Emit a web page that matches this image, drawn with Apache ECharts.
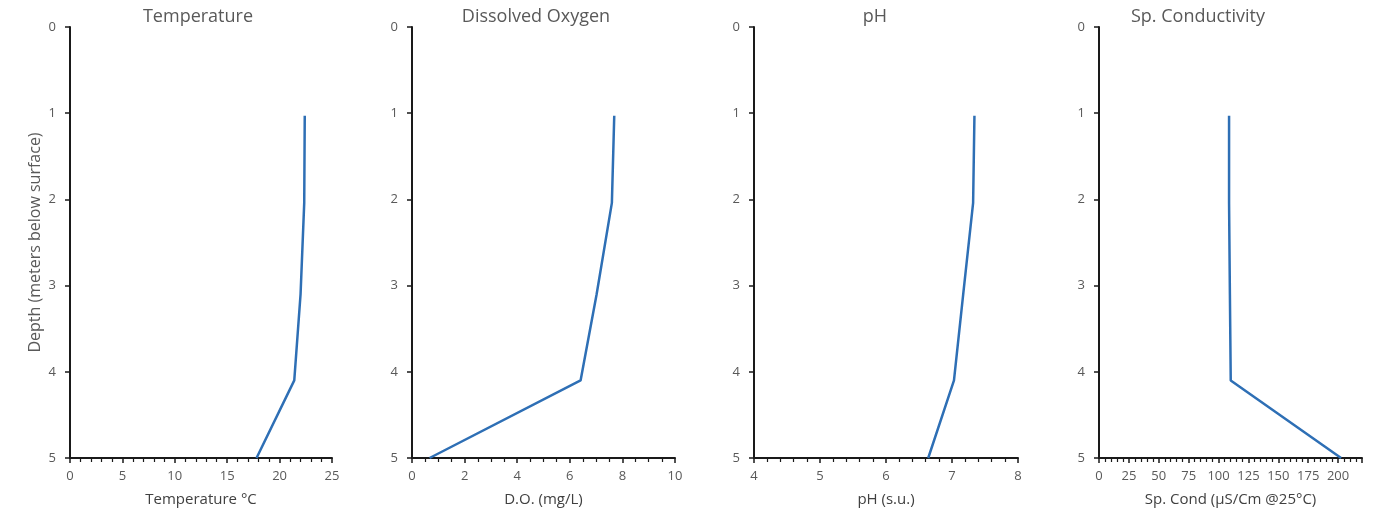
<!DOCTYPE html>
<html>
<head>
<meta charset="utf-8">
<script src="https://cdn.jsdelivr.net/npm/echarts@6/dist/echarts.min.js"></script>
<style>html,body{margin:0;padding:0;background:#fff}#c{width:1382px;height:512px}</style>
</head>
<body>
<div id="c"></div>
<script>
const depth = [1.03, 2.04, 3.1, 4.1, 5.0];
const temperature = [22.4, 22.35, 22.0, 21.4, 17.8];
const dissolvedOxygen = [7.69, 7.6, 7.02, 6.41, 0.67];
const pH = [7.34, 7.32, 7.17, 7.03, 6.64];
const spCond = [108.8, 108.8, 109.5, 110.2, 202.5];
const depthTicks = [0, 1, 2, 3, 4, 5];

const titles = ['Temperature', 'Dissolved Oxygen', 'pH', 'Sp. Conductivity'];
const xNames = ['Temperature °C', 'D.O. (mg/L)', 'pH (s.u.)', 'Sp. Cond (µS/Cm @25°C)'];
const xMin = [0, 0, 4, 0];
const xMax = [25, 10, 8, 220];
const xInterval = [5, 2, 1, 25];
const xMinorSplit = [5, 4, 5, 5];
const seriesValues = [temperature, dissolvedOxygen, pH, spCond];

const gridLeft = [70, 412, 754, 1099];
const gridRight = [332, 675, 1018, 1362];
const titleCenter = [193, 531, 870, 1193];
const FONT = 'Open Sans';

const grids = [], xAxes = [], yAxes = [], series = [], title = [];
for (let i = 0; i < 4; i++) {
  grids.push({left: gridLeft[i], width: gridRight[i] - gridLeft[i], top: 27, height: 434, containLabel: false});
  title.push({text: titles[i], left: titleCenter[i], top: 3, textAlign: 'center',
    textStyle: {fontFamily: FONT, fontSize: 18, fontWeight: 'normal', color: '#595959'}});
  xAxes.push({
    type: 'value', gridIndex: i, position: 'bottom', min: xMin[i], max: xMax[i], interval: xInterval[i],
    name: xNames[i], nameLocation: 'middle', nameGap: 34,
    nameTextStyle: {fontFamily: FONT, fontSize: 15, color: '#404040'},
    axisLine: {show: true, onZero: false, lineStyle: {color: '#1a1a1a', width: 2}},
    axisTick: {show: true, inside: false, length: 5, lineStyle: {color: '#1a1a1a', width: 1.5}},
    minorTick: {show: true, splitNumber: xMinorSplit[i], length: 4, lineStyle: {color: '#1a1a1a', width: 1.2}},
    splitLine: {show: false},
    axisLabel: {fontFamily: FONT, fontSize: 13, color: '#595959', margin: 12, showMaxLabel: i !== 3}
  });
  yAxes.push({
    type: 'value', gridIndex: i, inverse: true, min: depthTicks[0], max: depthTicks[depthTicks.length - 1], interval: 1,
    name: i === 0 ? 'Depth (meters below surface)' : '', nameLocation: 'middle', nameGap: 27, nameRotate: 90,
    nameTextStyle: {fontFamily: FONT, fontSize: 16, color: '#595959'},
    axisLine: {show: true, onZero: false, lineStyle: {color: '#1a1a1a', width: 2}},
    axisTick: {show: true, inside: false, length: 5, lineStyle: {color: '#1a1a1a', width: 1.5}},
    splitLine: {show: false},
    axisLabel: {fontFamily: FONT, fontSize: 13, color: '#595959', margin: 14}
  });
  series.push({
    type: 'line', xAxisIndex: i, yAxisIndex: i, showSymbol: false, symbol: 'none',
    lineStyle: {color: '#2e6fb5', width: 2.5},
    data: depth.map((d, k) => [seriesValues[i][k], d]),
    animation: false
  });
}

const chart = echarts.init(document.getElementById('c'), null, {renderer: 'canvas'});
chart.setOption({backgroundColor: '#fff', animation: false, title, grid: grids, xAxis: xAxes, yAxis: yAxes, series});
</script>
</body>
</html>
